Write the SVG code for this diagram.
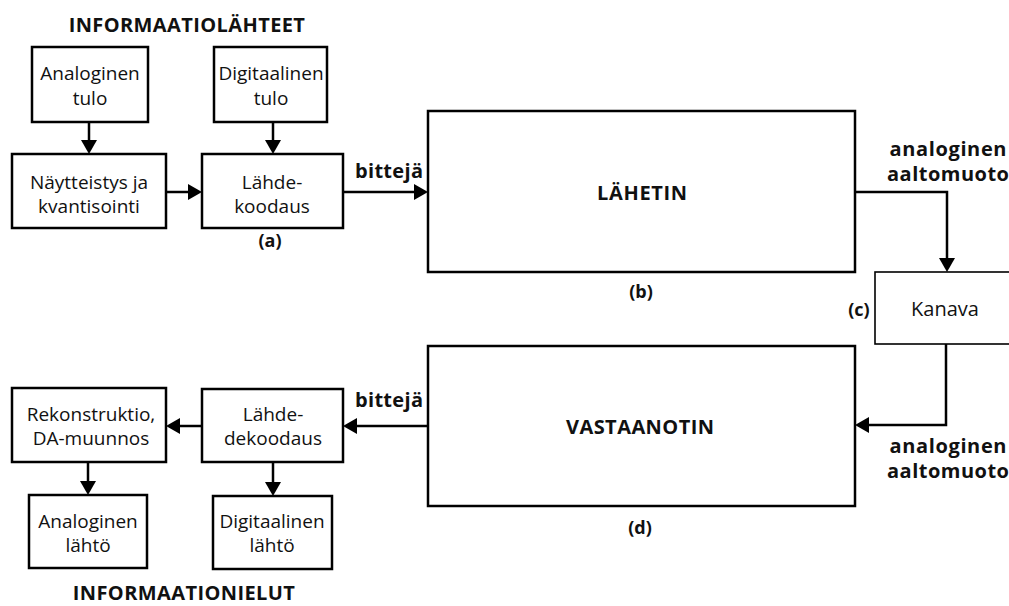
<svg xmlns="http://www.w3.org/2000/svg" width="1009" height="606" viewBox="0 0 1009 606">
<style>
  .box { fill: #fff; stroke: #000; stroke-width: 2.5; }
  .thin { fill: #fff; stroke: #000; stroke-width: 1.6; }
  .t { font-family: "Open Sans", "Noto Sans", sans-serif; font-size: 19px; fill: #111; text-anchor: middle; }
  .b { font-family: "Open Sans", "Noto Sans", sans-serif; font-size: 20px; font-weight: bold; fill: #111; text-anchor: middle; }
  .h { font-family: "Open Sans", "Noto Sans", sans-serif; font-size: 20px; font-weight: bold; fill: #111; text-anchor: middle; letter-spacing: 0.4px; }
  .c { fill: none; stroke: #000; stroke-width: 2.5; marker-end: url(#arr); }
</style>
<defs>
  <marker id="arr" viewBox="0 0 14 16" refX="1" refY="8" markerWidth="14" markerHeight="16" markerUnits="userSpaceOnUse" orient="auto">
    <path d="M0,0 L14,8 L0,16 z" fill="#000"/>
  </marker>
</defs>
<rect width="1009" height="606" fill="#fff"/>

<text class="h" x="187" y="32">INFORMAATIOLÄHTEET</text>
<text class="h" x="184" y="600">INFORMAATIONIELUT</text>

<g id="analoginen-tulo">
  <rect class="box" x="32" y="47" width="116" height="75"/>
  <text class="t" x="90" y="80">Analoginen</text>
  <text class="t" x="90" y="105">tulo</text>
</g>
<g id="digitaalinen-tulo">
  <rect class="box" x="214" y="47" width="113" height="75"/>
  <text class="t" x="271" y="80">Digitaalinen</text>
  <text class="t" x="271" y="105">tulo</text>
</g>
<g id="naytteistys">
  <rect class="box" x="12" y="154" width="154" height="74"/>
  <text class="t" x="89" y="189">Näytteistys ja</text>
  <text class="t" x="89" y="213">kvantisointi</text>
</g>
<g id="lahdekoodaus">
  <rect class="box" x="202" y="154" width="141" height="74"/>
  <text class="t" x="272" y="189">Lähde-</text>
  <text class="t" x="272" y="213">koodaus</text>
  <text class="b" x="270" y="247" style="font-size:18px">(a)</text>
</g>
<g id="lahetin">
  <rect class="box" x="428" y="111" width="427" height="161"/>
  <text class="b" x="642" y="200" textLength="90" lengthAdjust="spacing">LÄHETIN</text>
  <text class="b" x="641" y="298" style="font-size:18px">(b)</text>
</g>
<g id="kanava">
  <rect class="thin" x="875" y="272" width="150" height="72"/>
  <text class="t" x="945" y="316" style="font-size:20px">Kanava</text>
  <text class="b" x="859" y="316" style="font-size:18px">(c)</text>
</g>
<g id="vastaanotin">
  <rect class="box" x="428" y="346" width="427" height="160"/>
  <text class="b" x="640" y="434" textLength="148" lengthAdjust="spacing">VASTAANOTIN</text>
  <text class="b" x="640" y="534" style="font-size:18px">(d)</text>
</g>
<g id="rekonstruktio">
  <rect class="box" x="12" y="388" width="154" height="74"/>
  <text class="t" x="91" y="421">Rekonstruktio,</text>
  <text class="t" x="91" y="445">DA-muunnos</text>
</g>
<g id="lahdedekoodaus">
  <rect class="box" x="202" y="389" width="141" height="73"/>
  <text class="t" x="273" y="421">Lähde-</text>
  <text class="t" x="273" y="445">dekoodaus</text>
</g>
<g id="analoginen-lahto">
  <rect class="box" x="29" y="495" width="118" height="73"/>
  <text class="t" x="88" y="528">Analoginen</text>
  <text class="t" x="88" y="552">lähtö</text>
</g>
<g id="digitaalinen-lahto">
  <rect class="box" x="213" y="496" width="119" height="73"/>
  <text class="t" x="272" y="528">Digitaalinen</text>
  <text class="t" x="272" y="552">lähtö</text>
</g>

<g id="connectors">
  <line class="c" x1="89" y1="122" x2="89" y2="141"/>
  <line class="c" x1="273" y1="122" x2="273" y2="141"/>
  <line class="c" x1="166" y1="192" x2="189" y2="192"/>
  <line class="c" x1="343" y1="192" x2="415" y2="192"/>
  <path class="c" d="M855,192 H947 V259"/>
  <path class="c" d="M946,344 V425 H868"/>
  <line class="c" x1="428" y1="426" x2="356" y2="426"/>
  <line class="c" x1="202" y1="426" x2="179" y2="426"/>
  <line class="c" x1="88" y1="462" x2="88" y2="482"/>
  <line class="c" x1="273" y1="462" x2="273" y2="483"/>
  <text class="b" x="389" y="178" textLength="68" lengthAdjust="spacing">bittejä</text>
  <text class="b" x="389" y="407" textLength="68" lengthAdjust="spacing">bittejä</text>
  <text class="b" x="948" y="156" textLength="117" lengthAdjust="spacing">analoginen</text>
  <text class="b" x="948" y="181" textLength="122" lengthAdjust="spacing">aaltomuoto</text>
  <text class="b" x="948" y="453" textLength="117" lengthAdjust="spacing">analoginen</text>
  <text class="b" x="948" y="478" textLength="122" lengthAdjust="spacing">aaltomuoto</text>
</g>
</svg>
